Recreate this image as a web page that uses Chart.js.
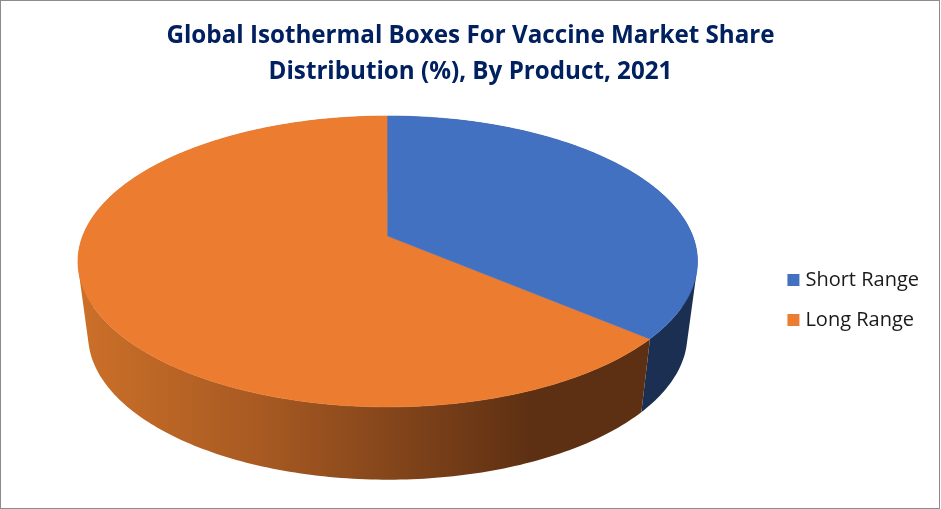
<!DOCTYPE html>
<html>
<head>
<meta charset="utf-8">
<title>Isothermal boxes market share</title>
<script src="https://cdn.jsdelivr.net/npm/chart.js@4"></script>
<style>
    html, body { margin: 0; padding: 0; background: #fff; }
    #wrap { position: relative; width: 941px; height: 509px; overflow: hidden; }
    #wrap::after { content: ''; position: absolute; left: 0; top: 0; right: 1px; bottom: 0; border: 1px solid #8c8c8c; pointer-events: none; }
</style>
</head>
<body>
<div id="wrap"><canvas id="chart" width="941" height="509"></canvas></div>
<script>
const titleLines = ['Global Isothermal Boxes For Vaccine Market Share', 'Distribution (%), By Product, 2021'];
const categories = ['Short Range', 'Long Range'];
const shares = [36.2, 63.8];
const sliceColors = ['#4371c2', '#eb7c30'];

// Tilted disc: the pie's own arcs are projected with a small perspective
const tilt = -0.175;
const apexY = 236;
const topFace = { y: apexY, rx: 305, ry: 141 };
const bottomFace = { y: apexY + 74, rx: 295, ry: 140 };
const shiftX = -4;

function project(arc, face, angle) {
    const w = 1 + tilt * Math.sin(angle);
    return {
        x: arc.x + shiftX + face.rx * Math.cos(angle) / w,
        y: face.y + face.ry * Math.sin(angle) / w
    };
}

function rimPoints(arc, face) {
    const pts = [];
    const steps = Math.ceil((arc.endAngle - arc.startAngle) * 60);
    for (let i = 0; i <= steps; i++) {
        pts.push(project(arc, face, arc.startAngle + (arc.endAngle - arc.startAngle) * i / steps));
    }
    return pts;
}

function addPolygon(ctx, pts) {
    pts.forEach((p, i) => i ? ctx.lineTo(p.x, p.y) : ctx.moveTo(p.x, p.y));
    ctx.closePath();
}

function signedArea(pts) {
    return pts.reduce((sum, p, i) => {
        const q = pts[(i + 1) % pts.length];
        return sum + p.x * q.y - q.x * p.y;
    }, 0);
}

const wallShading = {
    id: 'wallShading',
    beforeDatasetDraw(chart, args) {
        const ctx = chart.ctx;
        const arcs = args.meta.data;

        // Side walls first, the top face covers their back half
        const orangeWall = ctx.createLinearGradient(78, 0, 530, 0);
        orangeWall.addColorStop(0, '#cc7029');
        orangeWall.addColorStop(0.4, '#a85a22');
        orangeWall.addColorStop(1, '#5e3013');
        const wallFills = ['#1a2f52', orangeWall];
        arcs.forEach((arc, i) => {
            const upper = rimPoints(arc, topFace);
            const lower = rimPoints(arc, bottomFace);
            ctx.beginPath();
            // one quad per step, all wound the same way so the fold at the sides stays filled
            for (let k = 0; k < upper.length - 1; k++) {
                const quad = [upper[k], upper[k + 1], lower[k + 1], lower[k]];
                addPolygon(ctx, signedArea(quad) < 0 ? quad.reverse() : quad);
            }
            ctx.fillStyle = wallFills[i];
            ctx.fill();
        });

        // Top face, wedge from the apex out to the rim (thin stroke hides the seam)
        [1, 0].forEach((i) => {
            const arc = arcs[i];
            ctx.beginPath();
            addPolygon(ctx, [{ x: arc.x + shiftX, y: apexY }].concat(rimPoints(arc, topFace)));
            ctx.fillStyle = sliceColors[i];
            ctx.strokeStyle = sliceColors[i];
            ctx.lineWidth = 0.6;
            ctx.fill();
            ctx.stroke();
        });
        return false;
    }
};

new Chart(document.getElementById('chart'), {
    type: 'pie',
    data: {
        labels: categories,
        datasets: [{ data: shares, backgroundColor: sliceColors, borderWidth: 0 }]
    },
    plugins: [wallShading],
    options: {
        responsive: false,
        animation: false,
        layout: { padding: { left: 12, right: 12, top: 0, bottom: 159 } },
        plugins: {
            title: {
                display: true,
                text: titleLines,
                color: '#002060',
                font: { family: '"Open Sans"', size: 24.2, weight: 'bold', lineHeight: 1.5 },
                padding: { top: 18, bottom: 11 }
            },
            legend: {
                position: 'right',
                align: 'end',
                labels: {
                    font: { family: '"Open Sans"', size: 20 },
                    color: '#1a1a1a',
                    boxWidth: 4,
                    boxHeight: 4,
                    padding: 20,
                    generateLabels: () => categories.map((text, i) => ({
                        text,
                        index: i,
                        fillStyle: sliceColors[i],
                        strokeStyle: sliceColors[i],
                        lineWidth: 8,
                        fontColor: '#1a1a1a'
                    }))
                }
            },
            tooltip: { enabled: false }
        }
    }
});
</script>
</body>
</html>
